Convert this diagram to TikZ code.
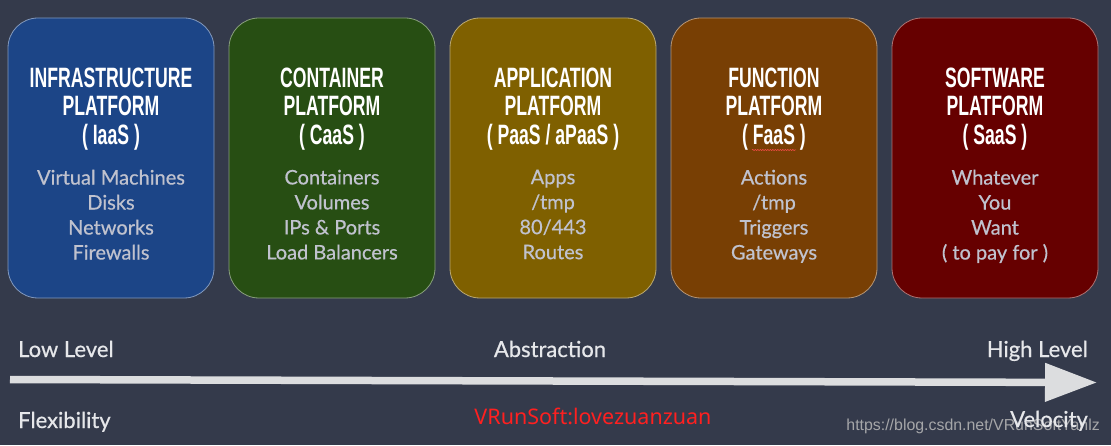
\documentclass[tikz,border=0pt]{standalone}
\usepackage{fontspec}
\setmainfont{Lato}
\newfontfamily\titlefont[FakeStretch=0.63]{Liberation Sans}
\newfontfamily\labelfont[FakeBold=0.6]{Lato}
\newfontfamily\markfont{Noto Sans}
\newfontfamily\urlfont{Liberation Sans}
\usetikzlibrary{arrows.meta,positioning,decorations.pathmorphing}
\definecolor{slatebg}{HTML}{343A4B}
\definecolor{iaasblue}{HTML}{1C4587}
\definecolor{caasgreen}{HTML}{274E13}
\definecolor{paasgold}{HTML}{7F6000}
\definecolor{faasbrown}{HTML}{783F04}
\definecolor{saasred}{HTML}{660000}
\definecolor{itemgray}{HTML}{C0C2CE}
\definecolor{labelwhite}{HTML}{E6E7EA}
\definecolor{arrowgray}{HTML}{DCDDDF}
\definecolor{markred}{HTML}{FF2020}

\begin{document}
\begin{tikzpicture}[x=1pt,y=1pt,
  platbox/.style={rounded corners=30pt,minimum width=206pt,minimum height=280pt,line width=0.8pt,inner sep=0pt},
  boxtitle/.style={align=center,inner sep=0pt,text=white,font=\titlefont\bfseries\fontsize{28}{28.5}\selectfont},
  boxitems/.style={align=center,inner sep=0pt,text=itemgray,font=\labelfont\fontsize{20}{25}\selectfont},
  scalelabel/.style={inner sep=0pt,text=labelwhite,font=\labelfont\fontsize{22}{26}\selectfont}]
  \fill[slatebg] (0,0) rectangle (1111,445);

  \node[platbox,fill=iaasblue,draw=iaasblue!55!white] (iaas) at (111,287) {};
  \node[platbox,fill=caasgreen,draw=caasgreen!55!white,right=14.2pt of iaas] (caas) {};
  \node[platbox,fill=paasgold,draw=paasgold!55!white,right=14.2pt of caas] (paas) {};
  \node[platbox,fill=faasbrown,draw=faasbrown!55!white,right=14.2pt of paas] (faas) {};
  \node[platbox,fill=saasred,draw=saasred!55!white,right=14.2pt of faas] (saas) {};

  \node[boxtitle,below=50pt of iaas.north] (iaastitle) {INFRASTRUCTURE\\PLATFORM\\( IaaS )};
  \node[boxtitle,below=50pt of caas.north] (caastitle) {CONTAINER\\PLATFORM\\( CaaS )};
  \node[boxtitle,below=50pt of paas.north] (paastitle) {APPLICATION\\PLATFORM\\( PaaS / aPaaS )};
  \node[boxtitle,below=50pt of faas.north] (faastitle) {FUNCTION\\PLATFORM\\( FaaS )};
  \node[boxtitle,below=50pt of saas.north] (saastitle) {SOFTWARE\\PLATFORM\\( SaaS )};

  \node[boxitems,below=152pt of iaas.north] (iaasitems) {Virtual Machines\\Disks\\Networks\\Firewalls};
  \node[boxitems,below=152pt of caas.north] (caasitems) {Containers\\Volumes\\IPs \& Ports\\Load Balancers};
  \node[boxitems,below=152pt of paas.north] (paasitems) {Apps\\/tmp\\80/443\\Routes};
  \node[boxitems,below=152pt of faas.north] (faasitems) {Actions\\/tmp\\Triggers\\Gateways};
  \node[boxitems,below=152pt of saas.north] (saasitems) {Whatever\\You\\Want\\( to pay for )};

  \draw[markred!80!white,line width=0.5pt,decorate,decoration={snake,amplitude=0.6pt,segment length=2.5pt}] (752,295) -- (796,295);

  \coordinate (lowend) at (10,65.5);
  \coordinate (highend) at (1097,62.5);
  \draw[arrowgray,line width=7.5pt,-{Triangle[length=52pt,width=37pt]}] (lowend) -- (highend);

  \node[scalelabel,anchor=base west] (lowlevel) at (18,88) {Low Level};
  \node[scalelabel,anchor=base] (abstraction) at (550,88) {Abstraction};
  \node[scalelabel,anchor=base east] (highlevel) at (1088,88) {High Level};
  \node[scalelabel,anchor=base west] (flexibility) at (18,17) {Flexibility};
  \node[text=markred,font=\markfont\fontsize{21.5}{24}\selectfont,anchor=base,inner sep=0pt] (redmark) at (593,21) {VRunSoft:lovezuanzuan};
  \node[text=gray!55!white,opacity=0.85,font=\urlfont\fontsize{15.9}{18}\selectfont,anchor=base east,inner sep=0pt] (urlmark) at (1100,15) {https://blog.csdn.net/VRunSoftYanlz};
  \node[scalelabel,anchor=base east] (velocity) at (1088,18) {Velocity};
\end{tikzpicture}
\end{document}
